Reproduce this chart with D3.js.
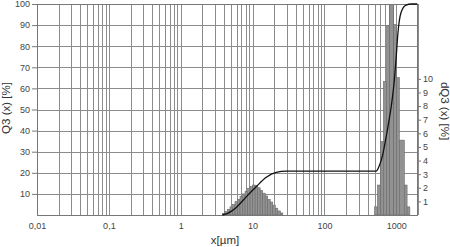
<!DOCTYPE html>
<html>
<head>
<meta charset="utf-8">
<script src="https://cdn.jsdelivr.net/npm/d3@7"></script>
<style>
  body { margin: 0; background: #fff; }
  svg { display: block; font-family: "Liberation Sans", Arial, sans-serif; }
</style>
</head>
<body>
<svg id="chart" width="450" height="247"></svg>
<script>
// tick labels (decimal comma as in the original)
var xTickValues = [0.01, 0.1, 1, 10, 100, 1000];
var xTickLabels = ["0,01", "0,1", "1", "10", "100", "1000"];
var leftTicks = [10, 20, 30, 40, 50, 60, 70, 80, 90, 100];
var rightTicks = [1, 2, 3, 4, 5, 6, 7, 8, 9, 10];

// fine mode histogram: class edges [µm] and dQ3 [%]
var fineEdges = [3.80, 4.12, 4.47, 4.84, 5.25, 5.69, 6.17, 6.68, 7.24, 7.85, 8.51, 9.23,
                 10.0, 10.84, 11.75, 12.74, 13.80, 14.96, 16.22, 17.58, 19.05, 20.65, 22.39, 24.27, 26.3];
var fineValues = [0.12, 0.25, 0.42, 0.6, 0.78, 0.98, 1.15, 1.35, 1.55, 1.75, 1.95, 2.1,
                  2.2, 2.15, 2.0, 1.8, 1.6, 1.4, 1.15, 0.95, 0.72, 0.5, 0.3, 0.15];

// coarse mode histogram
var coarseEdges = [495, 545, 600, 660, 728, 800, 915, 1000, 1100, 1290, 1410, 1540];
var coarseValues = [0.6, 2.2, 5.4, 9.8, 13.9, 17, 14, 10.1, 5.5, 2.2, 0.6];

// cumulative curve Q3(x)
var curveX = [3.8, 4.5, 5.94, 8.2, 11.2, 15.5, 21.3, 29.4, 60, 150, 300, 522,
              581, 640, 703, 774, 853, 938, 1000, 1050, 1162, 1363, 1614, 1958];
var curveQ3 = [0, 0.8, 3.6, 8.7, 13.4, 17.9, 20.2, 20.8, 20.8, 20.8, 20.8, 20.8,
               23.5, 28, 35, 43, 52, 64, 76, 86, 96, 99.5, 100, 100];

var svg = d3.select("#chart");
var pLeft = 37, pRight = 418, pTop = 4, pBottom = 215;

var x = d3.scaleLog().domain([0.01, 2000]).range([pLeft, pRight]);
var y = d3.scaleLinear().domain([0, 100]).range([pBottom, pTop]);
var y2 = d3.scaleLinear().domain([0, 15.5]).range([pBottom, pTop]);

function crisp(v) { return Math.round(v) + 0.5; }

svg.append("clipPath").attr("id", "plot")
   .append("rect").attr("x", pLeft).attr("y", pTop)
   .attr("width", pRight - pLeft).attr("height", pBottom - pTop);

// grid
var grid = svg.append("g").attr("stroke", "#8c8c8c").attr("stroke-width", 1);
grid.selectAll("line.v")
    .data(x.ticks())
    .enter().append("line")
    .attr("x1", function(d) { return crisp(x(d)); })
    .attr("x2", function(d) { return crisp(x(d)); })
    .attr("y1", pTop).attr("y2", pBottom);
grid.selectAll("line.h")
    .data([0].concat(leftTicks))
    .enter().append("line")
    .attr("x1", pLeft).attr("x2", pRight)
    .attr("y1", function(d) { return crisp(y(d)); })
    .attr("y2", function(d) { return crisp(y(d)); });

// histogram bars
function bars(edges, values) {
    var data = values.map(function(v, i) { return {x0: edges[i], x1: edges[i + 1], v: v}; });
    svg.append("g")
       .attr("clip-path", "url(#plot)")
       .selectAll("rect")
       .data(data)
       .enter().append("rect")
       .attr("x", function(d) { return x(d.x0); })
       .attr("width", function(d) { return x(d.x1) - x(d.x0); })
       .attr("y", function(d) { return y2(d.v); })
       .attr("height", function(d) { return pBottom - y2(d.v); })
       .attr("fill", "#929292")
       .attr("stroke", "#6a6a6a")
       .attr("stroke-width", 0.6);
}
bars(fineEdges, fineValues);
bars(coarseEdges, coarseValues);

// frame
svg.append("rect")
   .attr("x", pLeft + 0.5).attr("y", pTop + 0.5)
   .attr("width", pRight - pLeft - 1).attr("height", pBottom - pTop)
   .attr("fill", "none").attr("stroke", "#777");

// cumulative curve
var line = d3.line()
    .x(function(d) { return x(d[0]); })
    .y(function(d) { return y(d[1]); })
    .curve(d3.curveMonotoneX);
svg.append("path")
   .datum(curveX.map(function(v, i) { return [v, curveQ3[i]]; }))
   .attr("d", line)
   .attr("fill", "none")
   .attr("stroke", "#111")
   .attr("stroke-width", 1.3);

// left axis
var leftAxis = svg.append("g").attr("transform", "translate(" + pLeft + ",0)")
    .call(d3.axisLeft(y).tickValues(leftTicks).tickSize(5).tickPadding(2));
// right axis
var rightAxis = svg.append("g").attr("transform", "translate(" + (pRight - 1) + ",0)")
    .call(d3.axisRight(y2).tickValues(rightTicks).tickSize(4).tickPadding(2));
// bottom labels
var bottomAxis = svg.append("g").attr("transform", "translate(0," + pBottom + ")")
    .call(d3.axisBottom(x).tickValues(xTickValues)
          .tickFormat(function(d, i) { return xTickLabels[i]; })
          .tickSize(0).tickPadding(8));

[leftAxis, rightAxis, bottomAxis].forEach(function(g) {
    g.select(".domain").remove();
    g.selectAll("line").attr("stroke", "#777");
    g.selectAll("text").attr("fill", "#444").style("font-size", "9px")
     .style("font-family", "'Liberation Sans', Arial, sans-serif");
});

// axis titles
svg.append("text")
   .attr("transform", "translate(10,108) rotate(-90)")
   .attr("text-anchor", "middle")
   .attr("fill", "#333").style("font-size", "11.5px")
   .text("Q3 (x) [%]");
svg.append("text")
   .attr("transform", "translate(441,111) rotate(90)")
   .attr("text-anchor", "middle")
   .attr("fill", "#333").style("font-size", "11.5px")
   .text("dQ3 (x) [%]");
svg.append("text")
   .attr("x", 225).attr("y", 244)
   .attr("text-anchor", "middle")
   .attr("fill", "#333").style("font-size", "11.5px")
   .text("x[µm]");
</script>
</body>
</html>
